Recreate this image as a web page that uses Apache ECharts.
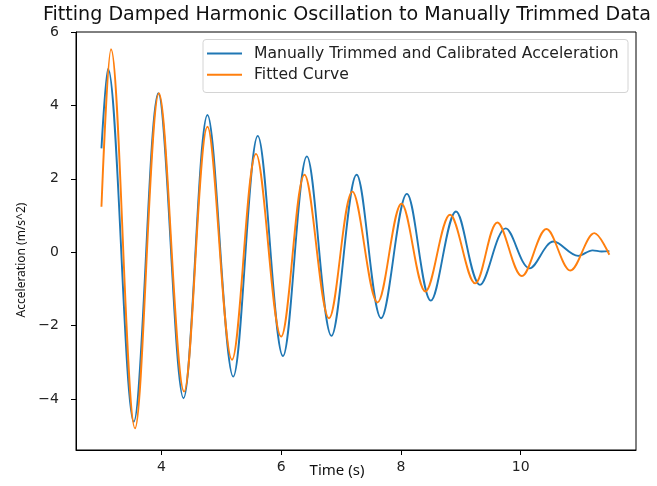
<!DOCTYPE html>
<html><head><meta charset="utf-8">
<script src="https://cdn.jsdelivr.net/npm/echarts@6/dist/echarts.min.js"></script>
<style>html,body{margin:0;padding:0;background:#fff}#c{width:657px;height:486px}</style>
</head><body><div id="c"></div>
<script>
const measuredTime = [3.00, 3.11, 3.54, 3.95, 4.37, 4.77, 5.20, 5.61, 6.03, 6.43, 6.84, 7.26, 7.67, 8.10, 8.50, 8.92, 9.32, 9.75, 10.15, 10.55, 10.96, 11.20, 11.35, 11.48];
const measuredAccel = [2.83, 4.99, -4.62, 4.33, -3.98, 3.74, -3.39, 3.17, -2.83, 2.61, -2.28, 2.11, -1.80, 1.59, -1.32, 1.11, -0.89, 0.65, -0.44, 0.29, -0.10, 0.05, 0.02, 0.03];
const fittedTime = [3.00, 3.16, 3.56, 3.96, 4.38, 4.77, 5.18, 5.58, 6.00, 6.39, 6.80, 7.19, 7.61, 8.01, 8.41, 8.82, 9.24, 9.61, 10.02, 10.43, 10.83, 11.23, 11.48];
const fittedAccel = [1.24, 5.53, -4.80, 4.33, -3.80, 3.42, -2.93, 2.68, -2.30, 2.11, -1.80, 1.65, -1.37, 1.32, -1.07, 1.02, -0.85, 0.81, -0.65, 0.63, -0.50, 0.52, -0.07];
const xTicks = [4, 6, 8, 10];
const yTicks = [-4, -2, 0, 2, 4, 6];
const seriesNames = ['Manually Trimmed and Calibrated Acceleration', 'Fitted Curve'];
const titleText = 'Fitting Damped Harmonic Oscillation to Manually Trimmed Data';
const xName = 'Time (s)';
const yName = 'Acceleration (m/s^2)';

const pairs = (a, b) => a.map((t, i) => [t, b[i]]);
const fmt = v => String(v).replace('-', '\u2212');
const tickFont = {fontFamily: 'DejaVu Sans', fontSize: 14, color: '#222'};
const blue = '#1f77b4', orange = '#ff7f0e';

const chart = echarts.init(document.getElementById('c'), null, {renderer: 'canvas'});
chart.setOption({
  animation: false,
  backgroundColor: '#fff',
  grid: {left: 76, right: 21, top: 32, bottom: 36, show: true, borderColor: '#000', borderWidth: 1, backgroundColor: 'transparent'},
  xAxis: {
    type: 'value', min: 2.575, max: 11.925,
    axisLine: {show: true, onZero: false, lineStyle: {color: '#000', width: 1}},
    splitLine: {show: false},
    axisTick: {show: true, inside: false, length: 5, customValues: xTicks, lineStyle: {color: '#000'}},
    axisLabel: Object.assign({customValues: xTicks, margin: 10, formatter: fmt}, tickFont)
  },
  yAxis: {
    type: 'value', min: -5.39, max: 6,
    axisLine: {show: true, onZero: false, lineStyle: {color: '#000', width: 1}},
    splitLine: {show: false},
    axisTick: {show: true, inside: false, length: 5, customValues: yTicks, lineStyle: {color: '#000'}},
    axisLabel: Object.assign({customValues: yTicks, margin: 17, formatter: fmt}, tickFont)
  },
  legend: {
    orient: 'vertical', left: 207, top: 45.5,
    itemWidth: 35, itemHeight: 2, itemGap: 5.2, padding: 0,
    icon: 'rect',
    data: seriesNames.map(n => ({name: n, icon: 'rect'})),
    textStyle: {fontFamily: 'DejaVu Sans', fontSize: 15.6, color: '#222', lineHeight: 14, padding: [0, 0, 0, 7]}
  },
  graphic: [
    {type: 'rect', z: 3, shape: {x: 203, y: 39.5, width: 425, height: 53, r: 3}, style: {fill: 'rgba(255,255,255,0.85)', stroke: '#d4d4d4', lineWidth: 1}},
    {type: 'text', x: 347, y: 15, style: {text: titleText, fontFamily: 'DejaVu Sans', fontSize: 19.1, fill: '#111', textAlign: 'center', textVerticalAlign: 'middle'}},
    {type: 'text', x: 337, y: 471, style: {text: xName, fontFamily: 'Noto Sans', fontSize: 15, fill: '#111', textAlign: 'center', textVerticalAlign: 'middle'}},
    {type: 'text', x: 22, y: 260, rotation: Math.PI / 2, style: {text: yName, fontFamily: 'Noto Sans', fontSize: 12, fill: '#111', textAlign: 'center', textVerticalAlign: 'middle'}}
  ],
  series: [
    {name: seriesNames[0], type: 'line', data: pairs(measuredTime, measuredAccel), smooth: 0.35, symbol: 'none', showSymbol: false, lineStyle: {width: 1.9, color: blue}, itemStyle: {color: blue}, z: 2},
    {name: seriesNames[1], type: 'line', data: pairs(fittedTime, fittedAccel), smooth: 0.35, symbol: 'none', showSymbol: false, lineStyle: {width: 1.9, color: orange}, itemStyle: {color: orange}, z: 2}
  ]
});
</script></body></html>
